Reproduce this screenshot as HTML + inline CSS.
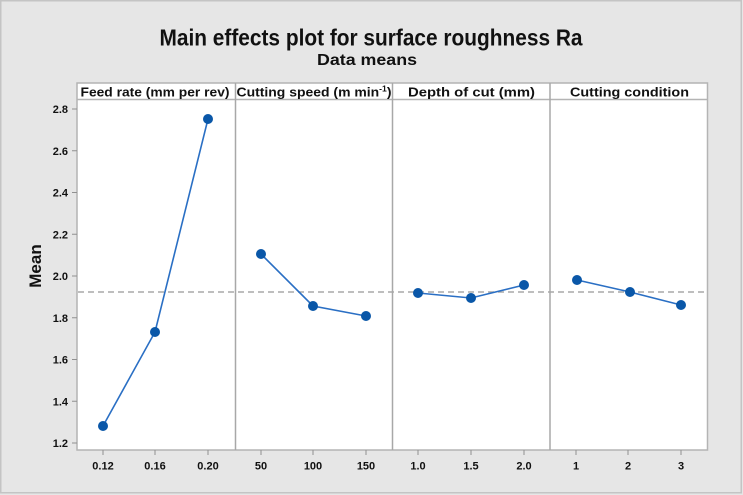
<!DOCTYPE html>
<html><head><meta charset="utf-8"><style>
html,body{margin:0;padding:0;background:#e6e6e6;}
svg{display:block;}
text{font-family:"Liberation Sans",Arial,sans-serif;font-weight:bold;fill:#111;}
</style></head><body>
<svg width="743" height="495" viewBox="0 0 743 495" xmlns="http://www.w3.org/2000/svg">
<rect x="0" y="0" width="743" height="495" fill="#e6e6e6"/>
<rect x="0.75" y="0.75" width="740.5" height="492" fill="none" stroke="#c4c4c4" stroke-width="1.5"/>
<text x="371" y="45.5" font-size="23.5" text-anchor="middle" textLength="423" lengthAdjust="spacingAndGlyphs">Main effects plot for surface roughness Ra</text>
<text x="367" y="65" font-size="15.5" text-anchor="middle" textLength="100" lengthAdjust="spacingAndGlyphs">Data means</text>
<!-- panels -->
<rect x="77" y="83" width="630.5" height="367" fill="#fff" stroke="#b4b4b4" stroke-width="1.5"/>
<line x1="77" y1="99.5" x2="707.5" y2="99.5" stroke="#b4b4b4" stroke-width="1.5"/>
<line x1="235.5" y1="83" x2="235.5" y2="450" stroke="#a8a8a8" stroke-width="1.5"/>
<line x1="392.5" y1="83" x2="392.5" y2="450" stroke="#a8a8a8" stroke-width="1.5"/>
<line x1="550" y1="83" x2="550" y2="450" stroke="#a8a8a8" stroke-width="1.5"/>
<!-- headers -->
<text x="155" y="96.5" font-size="13" text-anchor="middle" textLength="149" lengthAdjust="spacingAndGlyphs">Feed rate (mm per rev)</text>
<text x="236.5" y="96.5" font-size="13" textLength="155" lengthAdjust="spacingAndGlyphs">Cutting speed (m min<tspan font-size="8" dy="-5">-1</tspan><tspan dy="5">)</tspan></text>
<text x="471.5" y="96.5" font-size="13" text-anchor="middle" textLength="127" lengthAdjust="spacingAndGlyphs">Depth of cut (mm)</text>
<text x="629.5" y="96.5" font-size="13" text-anchor="middle" textLength="119" lengthAdjust="spacingAndGlyphs">Cutting condition</text>
<!-- y ticks -->
<g stroke="#909090" stroke-width="1">
<line x1="72" y1="109" x2="77" y2="109"/><line x1="72" y1="150.75" x2="77" y2="150.75"/>
<line x1="72" y1="192.5" x2="77" y2="192.5"/><line x1="72" y1="234.25" x2="77" y2="234.25"/>
<line x1="72" y1="276" x2="77" y2="276"/><line x1="72" y1="317.75" x2="77" y2="317.75"/>
<line x1="72" y1="359.5" x2="77" y2="359.5"/><line x1="72" y1="401.25" x2="77" y2="401.25"/>
<line x1="72" y1="443" x2="77" y2="443"/>
</g>
<g font-size="11" text-anchor="end">
<text x="68" y="113">2.8</text><text x="68" y="154.75">2.6</text><text x="68" y="196.5">2.4</text>
<text x="68" y="238.25">2.2</text><text x="68" y="280">2.0</text><text x="68" y="321.75">1.8</text>
<text x="68" y="363.5">1.6</text><text x="68" y="405.25">1.4</text><text x="68" y="447">1.2</text>
</g>
<text transform="translate(41,266) rotate(-90)" font-size="17" text-anchor="middle">Mean</text>
<!-- x ticks -->
<g stroke="#909090" stroke-width="1">
<line x1="103" y1="450" x2="103" y2="455"/><line x1="155" y1="450" x2="155" y2="455"/><line x1="208" y1="450" x2="208" y2="455"/>
<line x1="261" y1="450" x2="261" y2="455"/><line x1="313" y1="450" x2="313" y2="455"/><line x1="366" y1="450" x2="366" y2="455"/>
<line x1="418" y1="450" x2="418" y2="455"/><line x1="471" y1="450" x2="471" y2="455"/><line x1="524" y1="450" x2="524" y2="455"/>
<line x1="576" y1="450" x2="576" y2="455"/><line x1="628" y1="450" x2="628" y2="455"/><line x1="681" y1="450" x2="681" y2="455"/>
</g>
<g font-size="11" text-anchor="middle">
<text x="103" y="469.5">0.12</text><text x="155" y="469.5">0.16</text><text x="208" y="469.5">0.20</text>
<text x="261" y="469.5">50</text><text x="313" y="469.5">100</text><text x="366" y="469.5">150</text>
<text x="418" y="469.5">1.0</text><text x="471" y="469.5">1.5</text><text x="524" y="469.5">2.0</text>
<text x="576" y="469.5">1</text><text x="628" y="469.5">2</text><text x="681" y="469.5">3</text>
</g>
<!-- mean line -->
<line x1="78" y1="292" x2="707" y2="292" stroke="#a8a8a8" stroke-width="1.6" stroke-dasharray="6,4"/>
<!-- series -->
<g fill="none" stroke="#2a6fc4" stroke-width="1.6">
<polyline points="103,426 155,332 208,119"/>
<polyline points="261,254 313,306 366,316"/>
<polyline points="418,293 471,298 524,285"/>
<polyline points="577,280 630,292 681,305"/>
</g>
<g fill="#0a57a8">
<circle cx="103" cy="426" r="5"/><circle cx="155" cy="332" r="5"/><circle cx="208" cy="119" r="5"/>
<circle cx="261" cy="254" r="5"/><circle cx="313" cy="306" r="5"/><circle cx="366" cy="316" r="5"/>
<circle cx="418" cy="293" r="5"/><circle cx="471" cy="298" r="5"/><circle cx="524" cy="285" r="5"/>
<circle cx="577" cy="280" r="5"/><circle cx="630" cy="292" r="5"/><circle cx="681" cy="305" r="5"/>
</g>
</svg>
</body></html>
